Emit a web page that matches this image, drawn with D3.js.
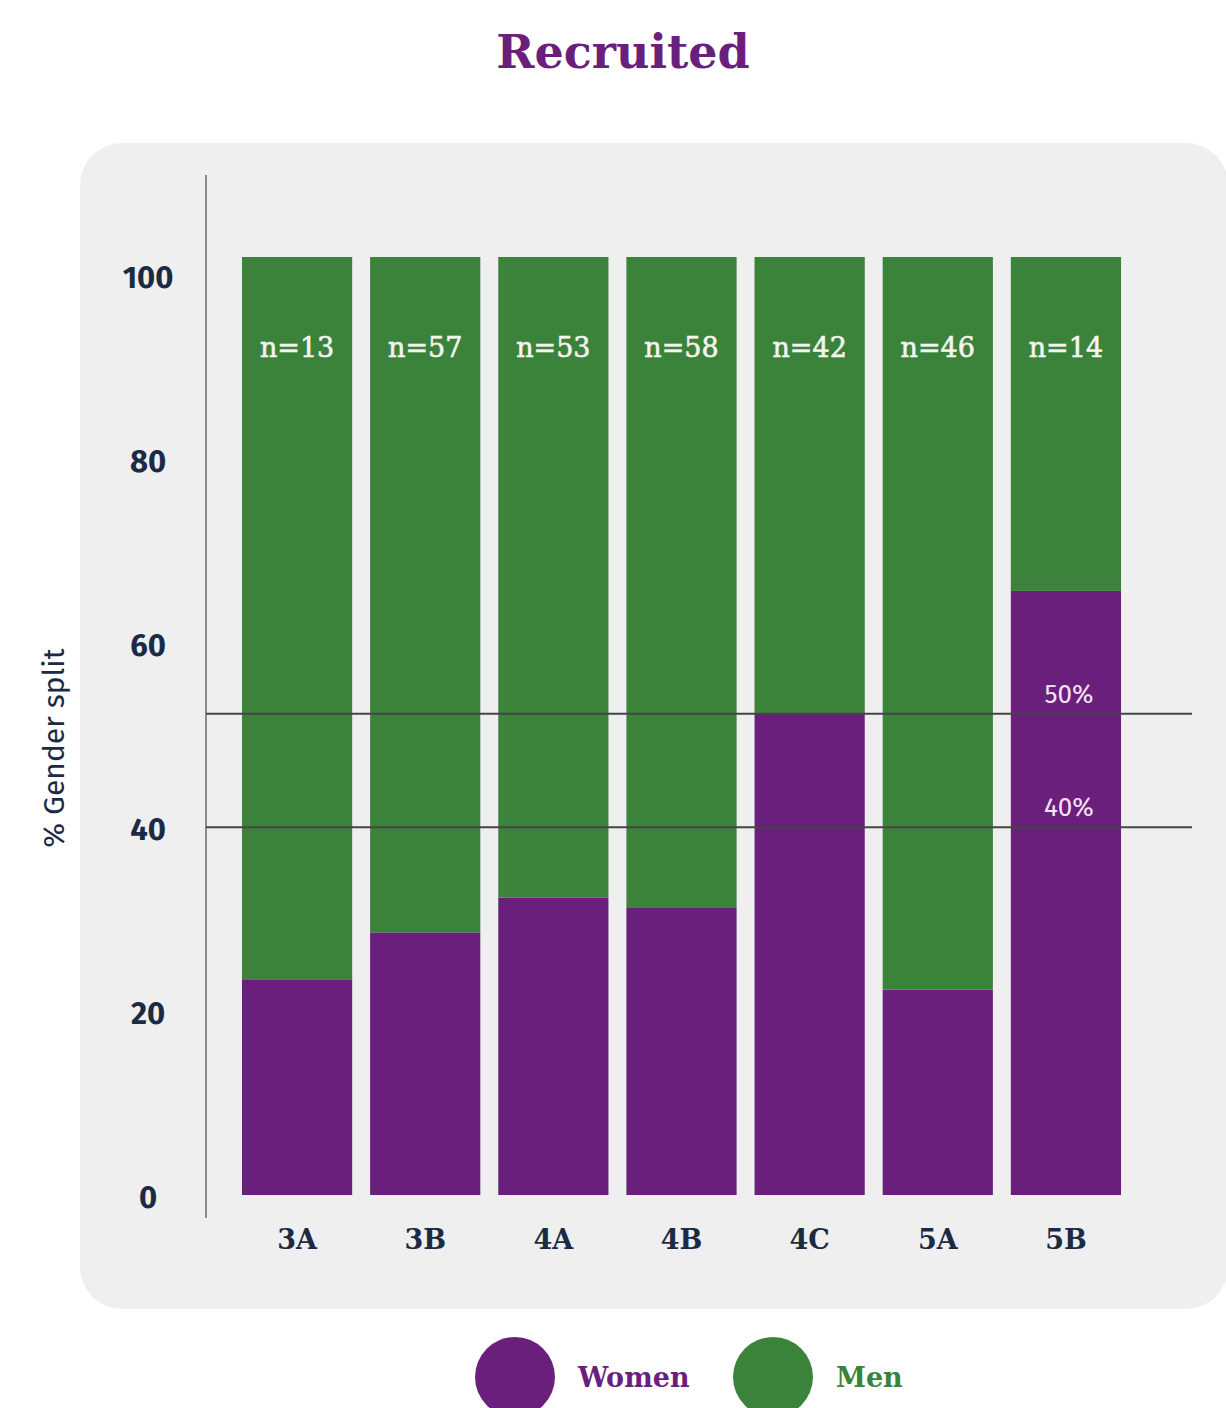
<!DOCTYPE html>
<html>
<head>
<meta charset="utf-8">
<script src="https://cdn.jsdelivr.net/npm/d3@7"></script>
<style>
  body { margin: 0; background: #fff; }
  svg { display: block; }
</style>
</head>
<body>
<svg id="chart" width="1226" height="1408"></svg>
<script>
;(function (d3) {
  // data
  var groups = ['3A', '3B', '4A', '4B', '4C', '5A', '5B']
  var counts = [13, 57, 53, 58, 42, 46, 14]
  var women = [23, 28, 31.7, 30.6, 51.3, 21.9, 64.4]
  var men = women.map(function (w) { return 100 - w })
  var ticks = [0, 20, 40, 60, 80, 100]
  var refLines = [51.3, 39.2]
  var refLabels = ['50%', '40%']
  var legendKeys = ['Women', 'Men']

  var purple = '#6b1f7d'
  var green = '#3b823a'
  var navy = '#1b2b45'
  var slab = '"DejaVu Serif", "Liberation Serif", serif'
  var sans = '"Fira Sans", "Open Sans", "Noto Sans", sans-serif'

  var svg = d3.select('#chart')

  svg.append('text')
    .attr('x', 623).attr('y', 68)
    .attr('text-anchor', 'middle')
    .attr('font-family', slab).attr('font-weight', 'bold')
    .attr('font-size', 46)
    .attr('fill', purple)
    .text('Recruited')

  // grey panel
  svg.append('rect')
    .attr('x', 80).attr('y', 143)
    .attr('width', 1148).attr('height', 1166)
    .attr('rx', 42)
    .attr('fill', '#efefef')

  var x = d3.scaleBand()
    .domain(groups)
    .range([233, 1130])
    .paddingInner(0.14)
    .paddingOuter(0.07)

  var y = d3.scaleLinear().domain([0, 100]).range([1195, 257])
  // the tick labels in the original sit slightly off the bar scale
  var yTick = d3.scaleLinear().domain([0, 100]).range([1198, 278])

  var rows = groups.map(function (g, i) {
    return {group: g, n: counts[i], Women: women[i], Men: men[i]}
  })
  var stack = d3.stack().keys(legendKeys)(rows)
  var color = d3.scaleOrdinal().domain(legendKeys).range([purple, green])

  svg.append('g').selectAll('g')
    .data(stack)
    .join('g')
    .attr('fill', function (d) { return color(d.key) })
    .selectAll('rect')
    .data(function (d) { return d })
    .join('rect')
    .attr('x', function (d) { return x(d.data.group) })
    .attr('y', function (d) { return y(d[1]) })
    .attr('width', x.bandwidth())
    .attr('height', function (d) { return y(d[0]) - y(d[1]) })

  // n labels
  svg.append('g').selectAll('text')
    .data(rows)
    .join('text')
    .attr('x', function (d) { return x(d.group) + x.bandwidth() / 2 })
    .attr('y', 357)
    .attr('text-anchor', 'middle')
    .attr('font-family', slab).attr('font-size', 27)
    .attr('fill', '#f4f4f0')
    .attr('stroke', '#f4f4f0').attr('stroke-width', 0.6)
    .text(function (d) { return 'n=' + d.n })

  // y axis line
  svg.append('line')
    .attr('x1', 206).attr('x2', 206)
    .attr('y1', 175).attr('y2', 1218)
    .attr('stroke', '#8a8a8a').attr('stroke-width', 2)

  var yAxis = svg.append('g')
    .attr('transform', 'translate(148,0)')
    .call(d3.axisLeft(yTick).tickValues(ticks).tickSize(0).tickPadding(0))
  yAxis.select('.domain').remove()
  yAxis.selectAll('text')
    .attr('text-anchor', 'middle')
    .attr('font-family', sans).attr('font-weight', 'bold')
    .attr('font-size', 31)
    .attr('fill', navy)

  var xAxis = svg.append('g')
    .attr('transform', 'translate(0,1218)')
    .call(d3.axisBottom(x).tickSize(0).tickPadding(12))
  xAxis.select('.domain').remove()
  xAxis.selectAll('text')
    .attr('font-family', slab).attr('font-weight', 'bold')
    .attr('font-size', 27)
    .attr('fill', navy)

  svg.append('text')
    .attr('transform', 'translate(64,748) rotate(-90)')
    .attr('text-anchor', 'middle')
    .attr('font-family', sans).attr('font-size', 30)
    .attr('fill', navy)
    .text('% Gender split')

  // reference lines
  var refs = svg.append('g').selectAll('g')
    .data(refLines)
    .join('g')
  refs.append('line')
    .attr('x1', 206).attr('x2', 1192)
    .attr('y1', function (d) { return y(d) })
    .attr('y2', function (d) { return y(d) })
    .attr('stroke', '#454545').attr('stroke-width', 2)
  refs.append('text')
    .attr('x', x('5B') + x.bandwidth() / 2 + 3)
    .attr('y', function (d) { return y(d) - 11 })
    .attr('text-anchor', 'middle')
    .attr('font-family', sans).attr('font-size', 26)
    .attr('fill', '#f5e3f5')
    .text(function (d, i) { return refLabels[i] })

  // legend
  var legX = d3.scalePoint().domain(legendKeys).range([515, 773])
  var leg = svg.append('g').selectAll('g')
    .data(legendKeys)
    .join('g')
    .attr('transform', function (d) { return 'translate(' + legX(d) + ',1377)' })
  leg.append('circle')
    .attr('r', 40)
    .attr('fill', function (d) { return color(d) })
  leg.append('text')
    .attr('x', 63).attr('y', 10)
    .attr('font-family', slab).attr('font-weight', 'bold')
    .attr('font-size', 27)
    .attr('fill', function (d) { return color(d) })
    .text(function (d) { return d })
})(window.d3)
</script>
</body>
</html>
